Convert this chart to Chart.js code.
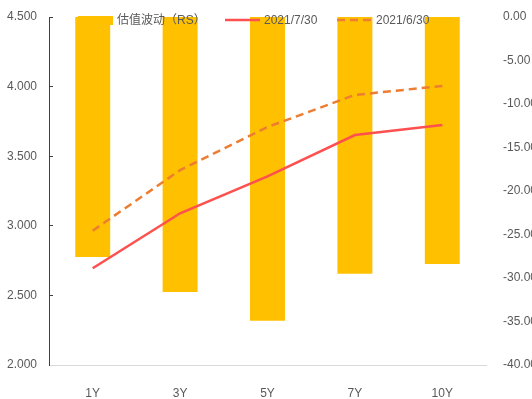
<!DOCTYPE html>
<html>
<head>
<meta charset="utf-8">
<script src="https://cdn.jsdelivr.net/npm/chart.js@4"></script>
<style>
  body { margin: 0; background: #fff; }
</style>
</head>
<body>
<canvas id="rateChart" width="532" height="399"></canvas>
<script>
const tenors = ["1Y", "3Y", "5Y", "7Y", "10Y"];
const rsChange = [-27.6, -31.6, -34.9, -29.5, -28.4];
const yieldJul30 = [2.695, 3.09, 3.355, 3.652, 3.724];
const yieldJun30 = [2.965, 3.40, 3.71, 3.94, 4.005];
const seriesNames = ["估值波动（RS）", "2021/7/30", "2021/6/30"];

const FONT = "'Liberation Sans', 'Noto Sans CJK SC', sans-serif";
const TEXT = '#595959';

// legend sits over the top of the plot, so draw it by hand
const overlayLegend = {
    id: 'overlayLegend',
    afterDraw(chart) {
        const c = chart.ctx;
        const slots = [78, 225, 337];
        const y = 20;
        c.save();
        c.font = '12px ' + FONT;
        c.textBaseline = 'middle';
        chart.data.datasets.forEach((ds, i) => {
            const x = slots[i];
            if (ds.type === 'bar') {
                c.fillStyle = ds.backgroundColor;
                c.fillRect(x, 16, 35, 9);
            } else {
                c.strokeStyle = ds.borderColor;
                c.lineWidth = ds.borderWidth;
                c.setLineDash(ds.borderDash || []);
                c.beginPath();
                c.moveTo(x, y);
                c.lineTo(x + 35, y);
                c.stroke();
                c.setLineDash([]);
            }
            c.fillStyle = TEXT;
            c.fillText(ds.label, x + 39, y + 1);
        });
        c.restore();
    }
};

// fixed axis sizes keep the plot box in place
function fixVertical(width) {
    return function (s) {
        s.width = width;
        s.paddingTop = 0;
        s.paddingBottom = 0;
    };
}

document.addEventListener("DOMContentLoaded", function () {
    const ctx = document.getElementById('rateChart').getContext('2d');

    new Chart(ctx, {
        type: 'bar',
        data: {
            labels: tenors,
            datasets: [{
                type: 'bar',
                label: seriesNames[0],
                data: rsChange,
                yAxisID: 'y2',
                backgroundColor: '#FFC000',
                barPercentage: 1,
                categoryPercentage: 0.4,
                order: 3
            }, {
                type: 'line',
                label: seriesNames[1],
                data: yieldJul30,
                yAxisID: 'y',
                borderColor: '#FF5050',
                borderWidth: 2.5,
                pointRadius: 0,
                tension: 0,
                order: 1
            }, {
                type: 'line',
                label: seriesNames[2],
                data: yieldJun30,
                yAxisID: 'y',
                borderColor: '#ED7D31',
                borderWidth: 2.5,
                borderDash: [8, 5],
                pointRadius: 0,
                tension: 0,
                order: 2
            }]
        },
        options: {
            responsive: false,
            maintainAspectRatio: false,
            animation: false,
            layout: { padding: { top: 17, left: 0, right: 0, bottom: 0 } },
            plugins: {
                legend: { display: false },
                tooltip: { enabled: false }
            },
            scales: {
                x: {
                    grid: { display: false },
                    border: { color: '#d9d9d9' },
                    ticks: { color: TEXT, font: { family: FONT, size: 12 }, padding: 13 },
                    afterFit(s) {
                        s.height = 34;
                        s.paddingLeft = 0;
                        s.paddingRight = 0;
                    }
                },
                y: {
                    position: 'left',
                    min: 2,
                    max: 4.5,
                    ticks: {
                        stepSize: 0.5,
                        callback: v => v.toFixed(3),
                        color: TEXT,
                        font: { family: FONT, size: 12 },
                        padding: 16
                    },
                    grid: { drawOnChartArea: false, tickLength: -4, color: '#404040' },
                    border: { color: '#404040' },
                    afterFit: fixVertical(49)
                },
                y2: {
                    position: 'right',
                    min: -40,
                    max: 0,
                    ticks: {
                        stepSize: 5,
                        callback: v => v.toFixed(2),
                        color: TEXT,
                        font: { family: FONT, size: 12 },
                        padding: 9
                    },
                    grid: { display: false },
                    border: { display: false },
                    afterFit: fixVertical(46)
                }
            }
        },
        plugins: [overlayLegend]
    });
});
</script>
</body>
</html>
